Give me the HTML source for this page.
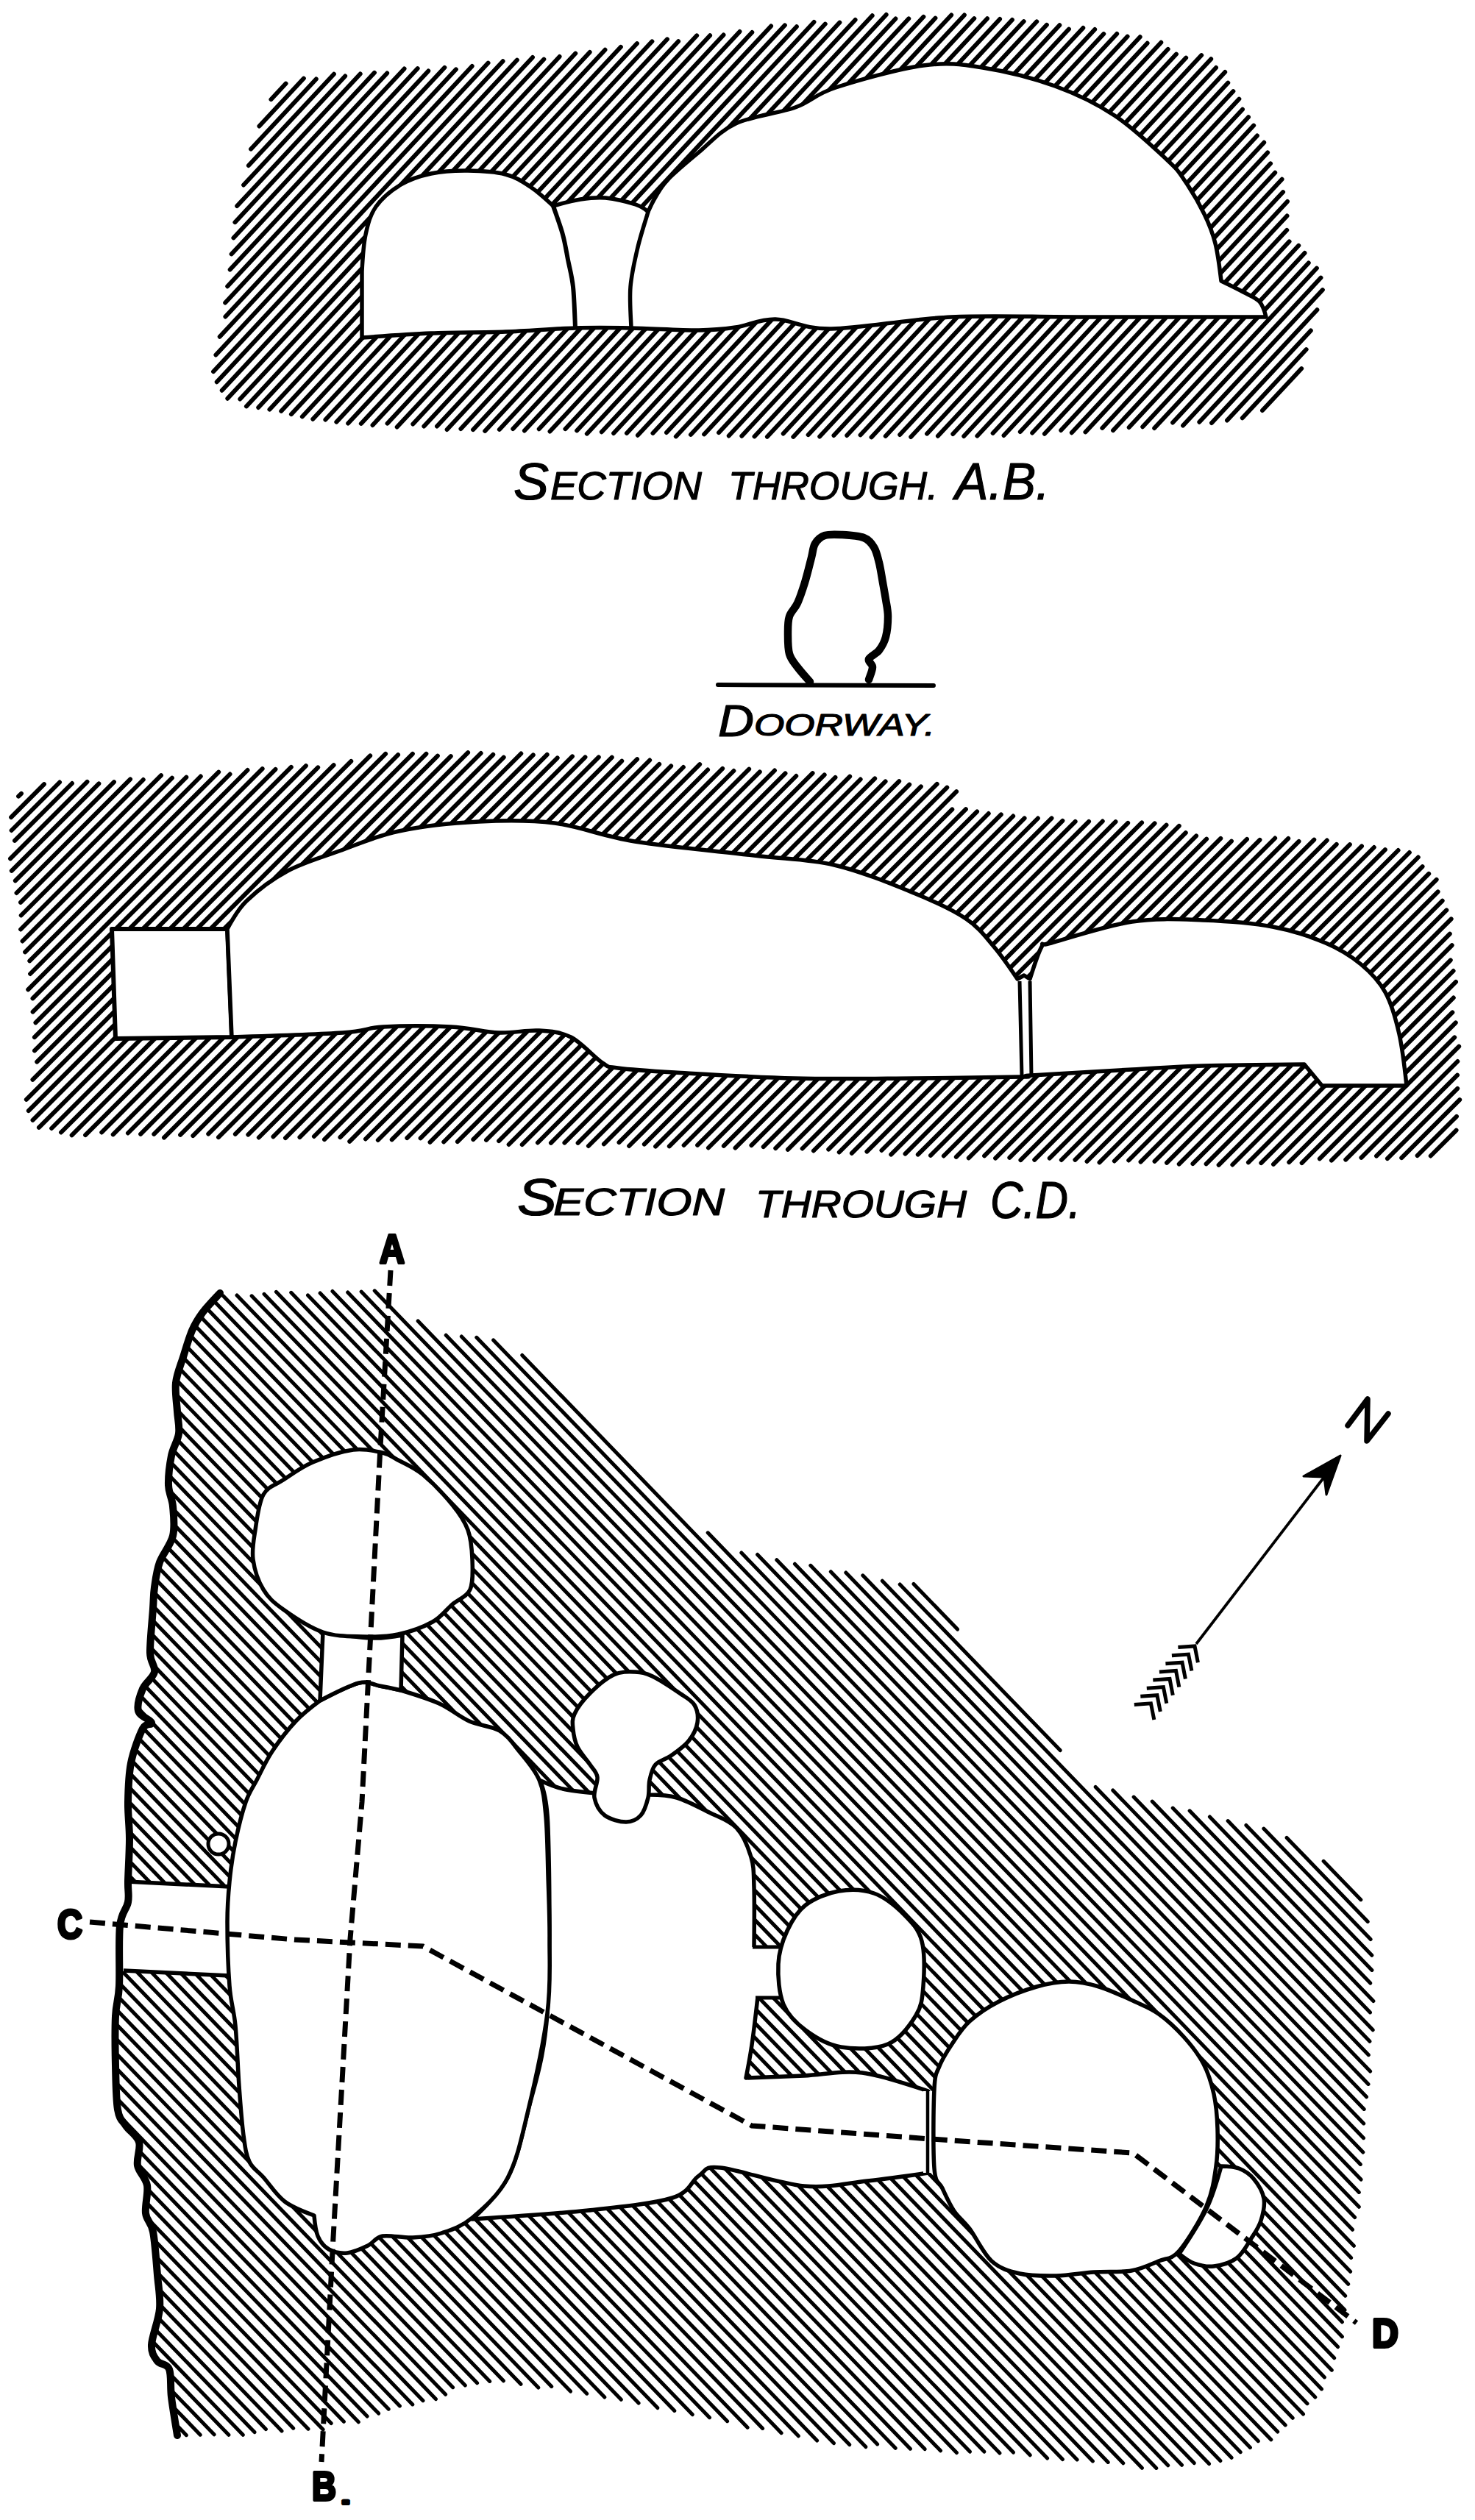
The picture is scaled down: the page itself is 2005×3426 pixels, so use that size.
<!DOCTYPE html>
<html><head><meta charset="utf-8"><title>Section</title>
<style>html,body{margin:0;padding:0;background:#fff;width:2005px;height:3426px;overflow:hidden}svg{display:block;font-family:"Liberation Sans",sans-serif}</style>
</head><body>
<svg width="2005" height="3426" viewBox="0 0 2005 3426"><defs></defs><path d="M368.4 135.2L388.6 113.6M352.4 171.5L412.9 106.6M341 202.7L429.8 107.5M337.9 225.1L453.9 100.7M331.1 251.5L469.2 103.4M322.2 280.1L489.7 100.5M319.4 302.2L509 98.8M317.4 323.4L526.2 99.4M314.6 345.4L549.6 93.4M312.7 366.6L567.7 93.1M309.2 389.3L582.3 96.4M306.2 411.6L604.4 91.8M306.4 430.5L619.9 94.3M298.7 457.8L641.7 89.9M293.4 482.5L663.6 85.6M290 505.2L683.6 83.2M294.7 519.3L702.9 81.6M301.7 530.8L724 77.9M309.3 541.8L739.4 80.6M326.3 542.6L760.6 76.9M334.9 552.4L782.3 72.6M351.2 554L801.7 70.9M366.4 556.7L822.5 67.7M382.2 558.9L843.9 63.8M395.9 563.2L866 59.1M410.8 566.4L886.4 56.3M425.3 569.8L907 53.3M442.4 570.6L922.1 56.2M457.3 573.7L947.2 48.3M473.2 575.6L965.1 48.2M490.8 575.9L983.5 47.5M506.5 578L1005.5 42.9M526.5 575.7L1022.3 44M539.7 580.6L1048.1 35.4M561.3 576.5L1066.9 34.3M576.3 579.5L1082.9 36.2M594 579.5L1106.5 29.9M607.6 584L1121.8 32.6M626.4 583L1141.4 30.6M643 584.2L1162.6 27M659.2 585.9L1185.7 21.2M678.8 583.9L1204.7 20M697.3 583.1L1217.4 25.4M712.9 585.5L1235.3 25.3M732.7 583.3L1255.4 22.8M747.5 586.5L1271.5 24.6M768.4 583.2L1293.2 20.4M784.1 585.4L1310.9 20.4M797.8 589.7L1324.3 25.1M817.8 587.3L1342 25.2M834.1 589L1359.1 25.9M851.9 588.9L1375.9 27M866.9 591.8L1391.7 29.1M887.4 588.9L1409.3 29.3M906 588.1L1422.9 33.8M918.8 593.4L1440.3 34.2M938.9 590.9L1453 39.6M957.1 590.4L1472.3 38M977 588.2L1488.2 40M990.7 592.5L1500.3 46.1M1008.3 592.8L1518.2 46M1025.5 593.4L1532.6 49.6M1042.9 593.8L1549.7 50.2M1064.7 589.5L1559.6 58.7M1078.3 593.9L1578.3 57.7M1098.6 591.2L1587.7 66.8M1114.2 593.5L1599 73.6M1133.4 592L1612.2 78.6M1151.2 592L1633.2 75.1M1169.5 591.4L1646.2 80.2M1184.5 594.4L1653 92M1203.7 592.9L1665.2 98M1223.2 591L1669.3 112.6M1238.2 594L1676.4 124.1M1260 589.7L1684.4 134.6M1274.9 592.8L1689 148.7M1295.3 590L1697 159.2M1310.2 593L1704.2 170.6M1328.3 592.7L1708.9 184.5M1349.6 588.9L1718.2 193.7M1364.5 592L1723.1 207.4M1386.8 587.1L1727.1 222.3M1403.2 588.6L1733.2 234.7M1419.9 589.8L1742.6 243.7M1442.2 585L1744.1 261.1M1456.8 588.3L1750 273.9M1475.4 587.4L1749.5 293.5M1498.3 581.9L1749.3 312.8M1513 585.2L1752.6 328.3M1534.7 581.1L1765.3 333.8M1553.2 580.3L1773.5 344M1569.2 582.1L1778.8 357.4M1594.1 574.5L1789.9 364.6M1608.1 578.6L1795.5 377.6M1630.3 573.8L1797.9 394.1M1647 575L1790.4 421.2M1668 571.5L1781.8 449.5M1688.8 568.3L1775.7 475.1M1716 558.1L1769.2 501.1" stroke="#000" stroke-width="5.9" stroke-linecap="round" fill="none"/>
<path d="M492 459 C492 459 553.5 454.3 586 453 C618.5 451.7 654.3 452.2 687 451 C719.7 449.8 753.7 446.8 782 446 C810.3 445.2 829 445.5 857 446 C885 446.5 926.2 449.2 950 449 C973.8 448.8 982.7 447.5 1000 445 C1017.3 442.5 1032.3 433.7 1054 434 C1075.7 434.3 1090.2 447.5 1130 447 C1169.8 446.5 1236 433.7 1293 431 C1350 428.3 1400.7 431 1472 431 C1543.3 431 1721 431 1721 431 C1721 431 1717.2 415.7 1712 410 C1706.8 404.3 1698.7 401.7 1690 397 C1681.3 392.3 1660 382 1660 382 C1660 382 1655.8 346.2 1652 331 C1648.2 315.8 1644 305.3 1637 291 C1630 276.7 1618.5 257.3 1610 245 C1601.5 232.7 1601.8 231.7 1586 217 C1570.2 202.3 1540.3 173.7 1515 157 C1489.7 140.3 1463.8 127.8 1434 117 C1404.2 106.2 1365.8 96.7 1336 92 C1306.2 87.3 1288.3 84.5 1255 89 C1221.7 93.5 1165 109.5 1136 119 C1107 128.5 1103.7 137.8 1081 146 C1058.3 154.2 1021.8 157.8 1000 168 C978.2 178.2 965.3 194.3 950 207 C934.7 219.7 917.8 233.8 908 244 C898.2 254.2 895.5 260.7 891 268 C886.5 275.3 881 288 881 288 C881 288 873.7 281.2 864 278 C854.3 274.8 835.5 270.2 823 269 C810.5 267.8 800.8 269.2 789 271 C777.2 272.8 752 280 752 280 C752 280 731.8 261.2 721 254 C710.2 246.8 701.2 240.7 687 237 C672.8 233.3 652.8 232.2 636 232 C619.2 231.8 601.2 232.8 586 236 C570.8 239.2 557.5 243.5 545 251 C532.5 258.5 519 269.7 511 281 C503 292.3 500.2 304.3 497 319 C493.8 333.7 492 369 492 369 C492 369 492 459 492 459Z" fill="#fff" stroke="#000" stroke-width="5.5" stroke-linejoin="round"/>
<path d="M752 280 C754.2 286.5 761.7 306.8 765 319 C768.3 331.2 769.7 341.2 772 353 C774.3 364.8 777.3 374.5 779 390 C780.7 405.5 781.5 436.7 782 446" fill="none" stroke="#000" stroke-width="6"/>
<path d="M881 288 C878.7 296 871 319 867 336 C863 353 858.5 371.7 857 390 C855.5 408.3 857.8 436.7 858 446" fill="none" stroke="#000" stroke-width="5.5"/>
<path d="M1101 927 C1098.2 923.7 1088.7 913.3 1084 907 C1079.3 900.7 1075.2 896.7 1073 889 C1070.8 881.3 1071 869.5 1071 861 C1071 852.5 1070.8 844.8 1073 838 C1075.2 831.2 1080.5 827.7 1084 820 C1087.5 812.3 1090.8 802.3 1094 792 C1097.2 781.7 1100.7 766.8 1103 758 C1105.3 749.2 1105 744 1108 739 C1111 734 1115 730 1121 728 C1127 726 1135.2 726.5 1144 727 C1152.8 727.5 1166.7 728.2 1174 731 C1181.3 733.8 1184.5 738.3 1188 744 C1191.5 749.7 1193 757 1195 765 C1197 773 1198.5 783.7 1200 792 C1201.5 800.3 1202.8 807.3 1204 815 C1205.2 822.7 1207 829.5 1207 838 C1207 846.5 1206 858.3 1204 866 C1202 873.7 1198.8 879 1195 884 C1191.2 889 1182.5 892.2 1181 896 C1179.5 899.8 1186 902.3 1186 907 C1186 911.7 1181.8 921.2 1181 924" fill="none" stroke="#000" stroke-width="10.5" stroke-linecap="round" stroke-linejoin="round"/>
<path d="M976 931 L1269 932" stroke="#000" stroke-width="6" stroke-linecap="round"/>
<path d="M25.1 1082.7L29 1078.8M15.1 1111.1L60 1066.1M15.6 1129L81.1 1063.5M20 1142.9L98 1065M14 1167.3L118.5 1062.8M15.8 1183.8L134.4 1065.3M20.8 1197.3L155 1063.1M22.5 1214L177.1 1059.3M28 1226.8L194.8 1060M28.7 1244.5L219 1054.2M28.1 1263.5L233.9 1057.7M30.5 1279.5L253.3 1056.7M34.1 1294.3L272.8 1055.5M40.3 1306.4L297.2 1049.6M41.1 1324L312.6 1052.5M38.2 1345.3L336.5 1047M44.5 1357.4L356.7 1045.2M44.6 1375.7L374.5 1045.8M48.4 1390.3L395.8 1042.9M46.9 1410.2L415.9 1041.1M47 1428.4L432.2 1043.3M50.2 1443.6L453.6 1040.2M44.4 1467.8L477.3 1034.9M35.8 1494.8L503.2 1027.4M38.8 1510.2L524.1 1024.9M44.5 1522.9L541.1 1026.2M52.9 1532.9L560.9 1024.8M70.1 1534L579.4 1024.8M83 1539.5L594.9 1027.6M97.6 1543.3L612.8 1028.1M116.1 1543.2L636.1 1023.2M138.2 1539.5L653.7 1024M153.7 1542.4L670.3 1025.8M173.9 1540.5L684.7 1029.7M191.1 1541.8L708.3 1024.5M209.3 1541.9L724.8 1026.4M223 1546.6L743.7 1025.9M245.1 1542.9L757.7 1030.3M262.3 1544.1L778 1028.3M283.2 1541.6L795.5 1029.3M297 1546.2L813.8 1029.4M319.8 1541.8L831.8 1029.7M337.3 1542.6L845.3 1034.6M351.8 1546.5L866.1 1032.2M371.4 1545.3L883.2 1033.5M388 1547.1L896.2 1038.9M407.4 1546.1L912.2 1041.3M426.9 1545L928.9 1043M441 1549.2L951.2 1039.1M462.4 1546.2L962.1 1046.5M475.2 1551.8L982.2 1044.8M496.9 1548.5L997.4 1048M513.8 1550L1018.2 1045.6M532.7 1549.4L1032.8 1049.4M553.3 1547.2L1053 1047.5M571.6 1547.4L1067.5 1051.4M584.5 1552.8L1082.3 1055M603.2 1552.5L1104.6 1051.1M621.9 1552.2L1120.7 1053.4M643.3 1549.2L1135.5 1056.9M661 1549.9L1155.2 1055.7M678.1 1551.2L1169.7 1059.5M691.6 1556L1189.2 1058.4M709.7 1556.2L1203.6 1062.4M730.9 1553.5L1222.2 1062.1M748.9 1553.8L1236.2 1066.6M767.4 1553.7L1251.9 1069.3M785.6 1553.9L1273.7 1065.9M799.9 1558L1287.3 1070.6M820.9 1555.4L1300.1 1076.2M841.5 1553.2L1294.3 1100.4M855.1 1558L1312.9 1100.2M875.8 1555.7L1328.1 1103.3M891.1 1558.7L1343.8 1106M909.8 1558.4L1360.8 1107.4M929.6 1557L1377.2 1109.5M948.1 1556.9L1392.6 1112.4M962.9 1560.5L1410.9 1112.5M983.8 1557.9L1429.5 1112.3M999.5 1560.7L1444.4 1115.8M1021.4 1557.1L1461.7 1116.9M1037.7 1559.2L1480.1 1116.8M1054.2 1561.1L1498.8 1116.5M1070.9 1562.8L1516.5 1117.2M1090.6 1561.5L1533.2 1118.8M1105.9 1564.5L1552.1 1118.4M1126.2 1562.6L1569.6 1119.3M1140.7 1566.5L1585.5 1121.7M1157.8 1567.8L1602.8 1122.8M1178.4 1565.6L1611.8 1132.2M1198.4 1564L1626.1 1136.3M1211.2 1569.6L1640.1 1140.7M1230.5 1568.7L1659.3 1139.9M1247.8 1569.7L1674 1143.6M1265 1570.9L1695 1140.9M1282.8 1571.5L1712.5 1141.8M1299.8 1572.9L1733.2 1139.5M1316.7 1574.3L1751.2 1139.9M1338.1 1571.4L1765.6 1143.8M1353.1 1574.7L1786.3 1141.6M1372.3 1573.9L1803.8 1142.5M1387.4 1577.2L1816.8 1147.8M1406.2 1576.8L1834.9 1148.1M1426.7 1574.7L1851 1150.4M1442.8 1577L1867.8 1152M1461.4 1576.8L1882.9 1155.2M1477.5 1579L1900.6 1156M1494.5 1580.4L1915.9 1159M1514.8 1578.5L1927.8 1165.5M1534.2 1577.5L1933.6 1178.1M1550.5 1579.6L1942.2 1187.9M1569.5 1578.9L1952.7 1195.8M1586 1580.8L1954.6 1212.3M1602.7 1582.6L1960.7 1224.6M1621.4 1582.2L1966.3 1237.4M1639.6 1582.4L1972.7 1249.3M1656.6 1583.8L1970.8 1269.6M1675.3 1583.5L1973.7 1285.1M1696.9 1580.3L1971.8 1305.3M1714.3 1581.2L1975.6 1320M1731 1582.9L1979 1334.9M1752.2 1580.1L1975.8 1356.5M1769.6 1581.1L1974.3 1376.4M1793.8 1575.3L1978.8 1390.3M1809.9 1577.6L1977.2 1410.3M1829.2 1576.6L1983.2 1422.7M1850.4 1573.8L1981.3 1443M1871 1571.6L1981 1461.7M1885.9 1575.1L1981.2 1479.8M1905.2 1574.2L1984.2 1495.2M1926.6 1571.1L1980 1517.8M1944.7 1571.5L1979.6 1536.6" stroke="#000" stroke-width="5.9" stroke-linecap="round" fill="none"/>
<path d="M152 1263 L309 1263 L315 1410 L157 1412Z" fill="#fff" stroke="#000" stroke-width="6" stroke-linejoin="round"/>
<path d="M315 1410 C315 1410 309 1263 309 1263 C309 1263 321.3 1238.2 335 1225 C348.7 1211.8 370 1195.3 391 1184 C412 1172.7 435.8 1166 461 1157 C486.2 1148 510.3 1136.7 542 1130 C573.7 1123.3 615.7 1118.8 651 1117 C686.3 1115.2 718.7 1114.5 754 1119 C789.3 1123.5 817.8 1136.7 863 1144 C908.2 1151.3 979.8 1157.7 1025 1163 C1070.2 1168.3 1097.8 1167.5 1134 1176 C1170.2 1184.5 1212.2 1201.8 1242 1214 C1271.8 1226.2 1294.8 1236.8 1313 1249 C1331.2 1261.2 1339.3 1273.3 1351 1287 C1362.7 1300.7 1383 1331 1383 1331 C1383 1331 1392 1326 1392 1326 C1392 1326 1400 1331 1400 1331 C1400 1331 1411.2 1295.2 1416 1287 C1420.8 1278.8 1408.5 1287.7 1429 1282 C1449.5 1276.3 1504.7 1258.2 1539 1253 C1573.3 1247.8 1603.2 1249.8 1635 1251 C1666.8 1252.2 1702.2 1254.8 1730 1260 C1757.8 1265.2 1782 1273.5 1802 1282 C1822 1290.5 1836.5 1299.8 1850 1311 C1863.5 1322.2 1874.3 1333.2 1883 1349 C1891.7 1364.8 1897.2 1384.8 1902 1406 C1906.8 1427.2 1912 1476 1912 1476 C1912 1476 1797 1476 1797 1476 C1797 1476 1773 1447 1773 1447 C1773 1447 1674 1447.8 1635 1449 C1596 1450.2 1577.8 1451.8 1539 1454 C1500.2 1456.2 1427 1460.3 1402 1462 C1377 1463.7 1415.7 1463.3 1389 1464 C1362.3 1464.7 1293.5 1465.7 1242 1466 C1190.5 1466.3 1134.2 1467.3 1080 1466 C1025.8 1464.7 957 1460.3 917 1458 C877 1455.7 856.3 1454.2 840 1452 C823.7 1449.8 829.7 1452 819 1445 C808.3 1438 790.5 1417.3 776 1410 C761.5 1402.7 748.3 1402 732 1401 C715.7 1400 697.8 1404.8 678 1404 C658.2 1403.2 639.2 1397.3 613 1396 C586.8 1394.7 545.5 1394.7 521 1396 C496.5 1397.3 500.3 1401.7 466 1404 C431.7 1406.3 315 1410 315 1410Z" fill="#fff" stroke="#000" stroke-width="5.5" stroke-linejoin="round"/>
<path d="M1386 1334 L1389 1464 M1400 1334 L1402 1464" stroke="#000" stroke-width="5"/>
<path d="M1799.1 2530.3L1849.8 2582.7M1749.1 2498.4L1859.2 2612.4M1717.8 2486.1L1863.1 2636.5M1693.9 2481.4L1864.8 2658.3M1669.1 2475.6L1864.9 2678.4M1644.4 2470L1862.7 2696.1M1617.1 2461.8L1866.9 2720.5M1594.2 2458.1L1862.5 2735.9M1566.2 2449.1L1866.2 2759.8M1541.1 2443.1L1861.9 2775.3M1242 2153.4L1301.5 2215.1M1512.8 2433.9L1860.3 2793.7M1223.2 2154L1441.1 2379.6M1489.2 2429.4L1862.6 2816M1199.3 2149.2L1860 2833.4M1172.8 2141.8L1857.5 2850.8M1149.8 2138L1854.2 2867.4M1129.3 2136.7L1853.7 2886.9M1101.8 2128.3L1853.5 2906.7M1080.4 2126.2L1852.8 2926M1055.8 2120.7L1849.3 2942.4M1029.6 2113.5L1850 2963.1M1007.8 2111L1847.3 2980.4M962.2 2083.8L1847.3 3000.3M709.8 1842.4L1841.6 3014.5M670.7 1821.9L1838.5 3031.3M647.8 1818.3L1840.4 3053.3M627.3 1817L1836.6 3069.4M606.2 1815.2L1835.6 3088.3M568.2 1795.9L1832.7 3105.3M509.2 1754.8L1828.7 3121.2M491.1 1756.1L1828 3140.4M472.7 1757L1824.4 3156.8M451.9 1755.5L1824.4 3176.7M435.1 1758L1818.5 3190.6M418.5 1760.9L1813.7 3205.7M395.7 1757.3L1810.3 3222.2M375.4 1756.3L1800.4 3231.9M359 1759.3L1796.5 3247.9M342.1 1761.8L1787.8 3258.9M322 1761L1777 3267.7M303.6 1761.9L1771.5 3282M289.9 1767.8L1757.2 3287.3M280.6 1778.2L1747.2 3296.9M271.9 1789.2L1736.7 3306M264.5 1801.5L1727.8 3316.8M258.5 1815.3L1710.3 3318.7M253.5 1830.2L1699.4 3327.4M248.9 1845.4L1686.2 3333.7M243.8 1860.2L1674.1 3341.3M239.6 1875.8L1658.9 3345.5M238.9 1895.1L1643.5 3349.6M240.9 1917.1L1623.2 3348.6M243.2 1939.6L1606.5 3351.3M240.9 1957.2L1587.7 3351.8M235.2 1971.3L1571.8 3355.4M231.5 1987.5L1552.4 3355.3M229.4 2005.3L1526.8 3348.8M229.7 2025.6L1506.2 3347.4M235.3 2051.4L1485.4 3345.9M236.6 2072.7L1464.1 3343.9M234.3 2090.4L1444.4 3343.5M227.9 2103.8L1423.6 3342M220.6 2116.2L1400.2 3337.8M215 2130.4L1377.4 3334.1M211.6 2146.9L1358.9 3335M209.2 2164.5L1337.8 3333.1M208.2 2183.5L1318.4 3333.1M206.8 2202L1300.4 3334.5M205.2 2220.4L1278.5 3331.8M204.1 2239.2L1257.1 3329.6M208.3 2263.6L1237.4 3329.2M205.7 2280.9L1217.2 3328.3M196.6 2291.5L1192.6 3322.9M190.6 2305.3L1176.8 3326.6M187.5 2322.1L1154.7 3323.6M194.4 2349.3L1133.4 3321.6M188.4 2363L1110.6 3318M183.2 2377.6L1085.3 3311.8M178.8 2393.2L1062.1 3307.7M176 2410.2L1036.6 3301.4M174.6 2428.8L1016.1 3300.2M174 2448.2L988.6 3291.7M174.5 2468.7L964.5 3286.7M175.8 2490L941.2 3282.6M175.9 2510.1L916.8 3277.4M175.2 2529.4L893.8 3273.6M174.3 2548.6L868.1 3267M174.2 2568.4L844.3 3262.3M173.6 2587.8L821.8 3259M167.3 2601.3L797.7 3254.2M163.1 2617L775.5 3251.1M162.1 2636L749.7 3244.4M162.1 2656L731.8 3246M162.3 2676.1L708 3241.3M162.1 2696L684.4 3236.8M160.6 2714.5L665.7 3237.4M157.8 2731.5L648.6 3239.7M156.7 2750.4L632.3 3242.9M156.5 2770.2L615.6 3245.7M156.7 2790.4L605.6 3255.3M157.1 2810.8L592.4 3261.6M157.5 2831.3L575 3263.7M158.4 2852.2L560.8 3268.9M161.9 2875.9L543.4 3270.9M189 2923.9L528.2 3275.2M186.7 2941.6L514.6 3281.1M200.4 2975.7L499.1 3285M198.7 2994L487.3 3292.8M199.6 3014.9L467.4 3292.2M209.7 3045.4L450.2 3294.5M211.9 3067.7L439.1 3303M213.7 3089.6L419 3302.2M216.1 3112L398.7 3301.2M217.3 3133.3L383 3304.9M215 3150.9L361.4 3302.5M210.7 3166.6L346 3306.6M206.7 3182.4L330.3 3310.3M213.8 3209.8L215.6 3211.6M231.5 3228.1L310.9 3310.3M232.2 3248.9L291.1 3309.8M234.7 3271.4L272.2 3310.2M238.5 3295.3L253.3 3310.7" stroke="#000" stroke-width="5" stroke-linecap="round" fill="none"/>
<path d="M168 2560 L312 2564 L312 2684 L166 2680Z" fill="#fff"/>
<path d="M172 2558 L312 2565 M168 2679 L312 2686" stroke="#000" stroke-width="5.5"/>
<path d="M733 2420 C733 2420 752.2 2429 765 2432 C777.8 2435 810 2438 810 2438 C810 2438 883 2440 883 2440 C883 2440 906.5 2440 920 2444 C933.5 2448 950.5 2457.2 964 2464 C977.5 2470.8 991.5 2474.8 1001 2485 C1010.5 2495.2 1017 2511.5 1021 2525 C1025 2538.5 1024.3 2545.7 1025 2566 C1025.7 2586.3 1025 2647 1025 2647 C1025 2647 1030 2715 1030 2715 C1030 2715 1024.7 2761.7 1022 2780 C1019.3 2798.3 1014 2825 1014 2825 C1014 2825 1066.7 2823.2 1093 2822 C1119.3 2820.8 1143.8 2814.5 1172 2818 C1200.2 2821.5 1262 2843 1262 2843 C1262 2843 1262 2954 1262 2954 C1262 2954 1207.2 2962 1179 2965 C1150.8 2968 1126.3 2975 1093 2972 C1059.7 2969 1002.8 2949.3 979 2947 C955.2 2944.7 960.8 2951.2 950 2958 C939.2 2964.8 939 2980.2 914 2988 C889 2995.8 845.3 3000.2 800 3005 C754.7 3009.8 642 3017 642 3017 C642 3017 677.5 2985 690 2961 C702.5 2937 708 2910.3 717 2873 C726 2835.7 739.3 2801.7 744 2737 C748.7 2672.3 746.8 2537.8 745 2485 C743.2 2432.2 733 2420 733 2420Z" fill="#fff" stroke="#000" stroke-width="5.5" stroke-linejoin="round"/>
<path d="M1020 2647 L1063 2647 L1063 2716 L1025 2716Z" fill="#fff"/>
<path d="M1023 2647 L1063 2647 M1027 2716 L1063 2716" stroke="#000" stroke-width="5"/>
<path d="M1255 2843 L1272 2843 L1272 2954 L1255 2954Z" fill="#fff"/>
<path d="M1261 2843 L1261 2954 M1271 2843 L1271 2952" stroke="#000" stroke-width="4.5"/>
<path d="M435 2312 C435 2312 474.5 2291.3 488 2288 C501.5 2284.7 506.5 2290.3 516 2292 C525.5 2293.7 545 2298 545 2298 C545 2298 581.5 2309 597 2316 C612.5 2323 624.3 2333.8 638 2340 C651.7 2346.2 667.8 2346.3 679 2353 C690.2 2359.7 696 2368.8 705 2380 C714 2391.2 726.8 2405 733 2420 C739.2 2435 740 2448.3 742 2470 C744 2491.7 744.2 2522.3 745 2550 C745.8 2577.7 747.2 2604.8 747 2636 C746.8 2667.2 749 2697.5 744 2737 C739 2776.5 726 2835.7 717 2873 C708 2910.3 702.5 2937.3 690 2961 C677.5 2984.7 657 3002.5 642 3015 C627 3027.5 613.5 3031.5 600 3036 C586.5 3040.5 574.3 3041.3 561 3042 C547.7 3042.7 530.2 3038.2 520 3040 C509.8 3041.8 508 3049.2 500 3053 C492 3056.8 480.8 3062.2 472 3063 C463.2 3063.8 453.7 3061.8 447 3058 C440.3 3054.2 435.3 3047.7 432 3040 C428.7 3032.3 427 3012 427 3012 C427 3012 398.5 3001.7 387 2993 C375.5 2984.3 366 2969 358 2960 C350 2951 343.5 2948.5 339 2939 C334.5 2929.5 333.3 2920.2 331 2903 C328.7 2885.8 326.8 2860.8 325 2836 C323.2 2811.2 322.2 2776.7 320 2754 C317.8 2731.3 313.8 2723.5 312 2700 C310.2 2676.5 309 2636.7 309 2613 C309 2589.3 310.2 2576.2 312 2558 C313.8 2539.8 316.3 2522 320 2504 C323.7 2486 329.2 2464 334 2450 C338.8 2436 343 2431.5 349 2420 C355 2408.5 361.2 2394.3 370 2381 C378.8 2367.7 391.2 2351.5 402 2340 C412.8 2328.5 435 2312 435 2312Z" fill="#fff" stroke="#000" stroke-width="5.5" stroke-linejoin="round"/>
<circle cx="297" cy="2507" r="14" fill="#fff" stroke="#000" stroke-width="5"/>
<path d="M305 2502 L322 2498 M305 2514 L320 2515" stroke="#000" stroke-width="0"/>
<path d="M439 2218 C439 2218 486 2226.2 504 2227 C522 2227.8 547 2223 547 2223 C547 2223 545 2298 545 2298 C545 2298 525.5 2293.7 516 2292 C506.5 2290.3 501.5 2284.7 488 2288 C474.5 2291.3 435 2312 435 2312 C435 2312 439 2218 439 2218Z" fill="#fff" stroke="#000" stroke-width="5.5" stroke-linejoin="round"/>
<path d="M480 1971 C495.8 1968.8 509.8 1972.7 520 1975 C530.2 1977.3 531.8 1980 541 1985 C550.2 1990 562.7 1994.8 575 2005 C587.3 2015.2 604.8 2033.5 615 2046 C625.2 2058.5 631.5 2067.7 636 2080 C640.5 2092.3 641.5 2106.5 642 2120 C642.5 2133.5 643.5 2150.8 639 2161 C634.5 2171.2 623.5 2173.7 615 2181 C606.5 2188.3 600.3 2198.2 588 2205 C575.7 2211.8 556.8 2218.7 541 2222 C525.2 2225.3 510 2225.5 493 2225 C476 2224.5 457 2225.2 439 2219 C421 2212.8 398.5 2197.7 385 2188 C371.5 2178.3 364.8 2172.3 358 2161 C351.2 2149.7 345.8 2133.5 344 2120 C342.2 2106.5 344.7 2094.7 347 2080 C349.3 2065.3 351.7 2043.3 358 2032 C364.3 2020.7 373.8 2019.3 385 2012 C396.2 2004.7 409.2 1994.8 425 1988 C440.8 1981.2 464.2 1973.2 480 1971Z" fill="#fff" stroke="#000" stroke-width="5.5" stroke-linejoin="round"/>
<path d="M781 2330 C784.8 2321.8 793.2 2310.8 802 2302 C810.8 2293.2 823.8 2281.8 834 2277 C844.2 2272.2 854.2 2272.7 863 2273 C871.8 2273.3 876.8 2274.2 887 2279 C897.2 2283.8 914.5 2295.5 924 2302 C933.5 2308.5 940 2311.3 944 2318 C948 2324.7 949.3 2333.8 948 2342 C946.7 2350.2 942 2359.5 936 2367 C930 2374.5 919.5 2381.7 912 2387 C904.5 2392.3 895.8 2393.5 891 2399 C886.2 2404.5 884.7 2412.5 883 2420 C881.3 2427.5 883 2436 881 2444 C879 2452 876 2462.5 871 2468 C866 2473.5 859.2 2477 851 2477 C842.8 2477 829.2 2473.5 822 2468 C814.8 2462.5 809.7 2452.7 808 2444 C806.3 2435.3 813 2423.5 812 2416 C811 2408.5 806.5 2405.8 802 2399 C797.5 2392.2 788.8 2383 785 2375 C781.2 2367 779.7 2358.5 779 2351 C778.3 2343.5 777.2 2338.2 781 2330Z" fill="#fff" stroke="#000" stroke-width="5.5" stroke-linejoin="round"/>
<path d="M1058 2670 C1058.8 2653.3 1063.8 2638.3 1070 2625 C1076.2 2611.7 1083.3 2599 1095 2590 C1106.7 2581 1124.5 2573.7 1140 2571 C1155.5 2568.3 1173.2 2568.7 1188 2574 C1202.8 2579.3 1218.2 2592.2 1229 2603 C1239.8 2613.8 1248.7 2622.8 1253 2639 C1257.3 2655.2 1256.3 2683.2 1255 2700 C1253.7 2716.8 1253 2726.8 1245 2740 C1237 2753.2 1224 2771.8 1207 2779 C1190 2786.2 1161.7 2786.2 1143 2783 C1124.3 2779.8 1108 2769.7 1095 2760 C1082 2750.3 1071.2 2740 1065 2725 C1058.8 2710 1057.2 2686.7 1058 2670Z" fill="#fff" stroke="#000" stroke-width="5.5" stroke-linejoin="round"/>
<path d="M1270 2840 C1271.2 2816.8 1273 2819.2 1277 2809 C1281 2798.8 1287.2 2789.2 1294 2779 C1300.8 2768.8 1307.3 2757.7 1318 2748 C1328.7 2738.3 1342.8 2728.8 1358 2721 C1373.2 2713.2 1393.2 2705.5 1409 2701 C1424.8 2696.5 1438.8 2694 1453 2694 C1467.2 2694 1479.2 2696.5 1494 2701 C1508.8 2705.5 1528.5 2714.8 1542 2721 C1555.5 2727.2 1563.8 2730 1575 2738 C1586.2 2746 1598.8 2757.7 1609 2769 C1619.2 2780.3 1629.2 2793 1636 2806 C1642.8 2819 1646.8 2832.3 1650 2847 C1653.2 2861.7 1654.5 2877.7 1655 2894 C1655.5 2910.3 1655.5 2927.5 1653 2945 C1650.5 2962.5 1648.3 2979.8 1640 2999 C1631.7 3018.2 1613.8 3047.5 1603 3060 C1592.2 3072.5 1585.8 3069.5 1575 3074 C1564.2 3078.5 1552.7 3084.5 1538 3087 C1523.3 3089.5 1504 3087.8 1487 3089 C1470 3090.2 1452.8 3093.7 1436 3094 C1419.2 3094.3 1400.7 3094.3 1386 3091 C1371.3 3087.7 1359.3 3084.2 1348 3074 C1336.7 3063.8 1326.5 3041.3 1318 3030 C1309.5 3018.7 1303.2 3015.2 1297 3006 C1290.8 2996.8 1285.5 2984.7 1281 2975 C1276.5 2965.3 1271.8 2970.5 1270 2948 C1268.2 2925.5 1268.8 2863.2 1270 2840Z" fill="#fff" stroke="#000" stroke-width="5.5" stroke-linejoin="round"/>
<path d="M1603 3064 C1603 3064 1630.5 3022.8 1640 3003 C1649.5 2983.2 1660 2945 1660 2945 C1660 2945 1676.7 2945.2 1684 2948 C1691.3 2950.8 1698.3 2955.2 1704 2962 C1709.7 2968.8 1716.3 2979.5 1718 2989 C1719.7 2998.5 1716.8 3010 1714 3019 C1711.2 3028 1706.5 3034.5 1701 3043 C1695.5 3051.5 1689.5 3063.7 1681 3070 C1672.5 3076.3 1659.7 3079.8 1650 3081 C1640.3 3082.2 1630.8 3079.8 1623 3077 C1615.2 3074.2 1603 3064 1603 3064Z" fill="#fff" stroke="#000" stroke-width="5.5" stroke-linejoin="round"/>
<path d="M241 3311 C239.7 3302.3 234.8 3274 233 3259 C231.2 3244 233.2 3229.2 230 3221 C226.8 3212.8 218 3215.5 214 3210 C210 3204.5 205.5 3199.8 206 3188 C206.5 3176.2 215.7 3154.8 217 3139 C218.3 3123.2 215.5 3110.5 214 3093 C212.5 3075.5 210.7 3048 208 3034 C205.3 3020 199.3 3019.5 198 3009 C196.7 2998.5 201.8 2981.8 200 2971 C198.2 2960.2 188.8 2953.8 187 2944 C185.2 2934.2 191.7 2921 189 2912 C186.3 2903 175.8 2897.3 171 2890 C166.2 2882.7 162.3 2881.7 160 2868 C157.7 2854.3 157.5 2829.2 157 2808 C156.5 2786.8 156.2 2759 157 2741 C157.8 2723 161 2720.5 162 2700 C163 2679.5 161 2637 163 2618 C165 2599 172.2 2596 174 2586 C175.8 2576 173.7 2572.3 174 2558 C174.3 2543.7 176 2518 176 2500 C176 2482 173.7 2467.2 174 2450 C174.3 2432.8 174.7 2413.7 178 2397 C181.3 2380.3 189.3 2359.2 194 2350 C198.7 2340.8 207 2346 206 2342 C205 2338 190 2333.7 188 2326 C186 2318.3 190.3 2304.8 194 2296 C197.7 2287.2 208.3 2281.2 210 2273 C211.7 2264.8 204.3 2261.3 204 2247 C203.7 2232.7 207 2201.8 208 2187 C209 2172.2 208.5 2168.5 210 2158 C211.5 2147.5 212.8 2135.7 217 2124 C221.2 2112.3 232 2100.7 235 2088 C238 2075.3 236 2059.5 235 2048 C234 2036.5 229.3 2030.5 229 2019 C228.7 2007.5 230.7 1990.7 233 1979 C235.3 1967.3 241.7 1959 243 1949 C244.3 1939 241.7 1930.5 241 1919 C240.3 1907.5 237.7 1892.3 239 1880 C240.3 1867.7 245.3 1856.8 249 1845 C252.7 1833.2 256.7 1819 261 1809 C265.3 1799 268.7 1793.5 275 1785 C281.3 1776.5 295 1762.5 299 1758" fill="none" stroke="#000" stroke-width="10" stroke-linejoin="round" stroke-linecap="round"/>
<path d="M531 1727 L517 1967 L492 2450 L476 2636 L453 3042 L437 3347" fill="none" stroke="#000" stroke-width="7" stroke-dasharray="21 10"/>
<path d="M122 2613 L400 2637 L575 2646 L1022 2890 L1265 2908 L1540 2927 L1844 3158" fill="none" stroke="#000" stroke-width="7" stroke-dasharray="21 10"/>
<path d="M1626 2235 L1810 1995" stroke="#000" stroke-width="3.8"/>
<path d="M1822 1979 L1772 2007 L1800 2008 L1803 2032Z" fill="#000" stroke="#000" stroke-width="3" stroke-linejoin="round"/>
<path d="M1628.4 2260.2 L1624 2238 L1601.4 2239.6 M1619.9 2271.4 L1615.5 2249.1 L1592.9 2250.7 M1611.4 2282.5 L1607 2260.2 L1584.4 2261.8 M1602.8 2293.6 L1598.5 2271.3 L1575.9 2272.9 M1594.3 2304.7 L1590 2282.5 L1567.3 2284 M1585.8 2315.8 L1581.4 2293.6 L1558.8 2295.2 M1577.3 2326.9 L1572.9 2304.7 L1550.3 2306.3 M1568.8 2338.1 L1564.4 2315.8 L1541.8 2317.4" fill="none" stroke="#000" stroke-width="5" stroke-linejoin="miter"/>
<path d="M1832 1938 L1859 1902 L1858 1959 L1887 1922" fill="none" stroke="#000" stroke-width="7.5" stroke-linejoin="round" stroke-linecap="round"/><g font-family="Liberation Sans, sans-serif" font-style="italic" fill="#000" stroke="#000" stroke-width="1.2" stroke-linejoin="round"><text x="698" y="679" font-size="70" textLength="48" lengthAdjust="spacingAndGlyphs" >S</text>
<text x="748" y="679" font-size="54" textLength="206" lengthAdjust="spacingAndGlyphs" >ECTION</text>
<text x="990" y="679" font-size="54" textLength="285" lengthAdjust="spacingAndGlyphs" >THROUGH.</text>
<text x="1298" y="679" font-size="70" textLength="129" lengthAdjust="spacingAndGlyphs" >A.B.</text>
<text x="976" y="1001" font-size="62" textLength="49" lengthAdjust="spacingAndGlyphs" >D</text>
<text x="1025" y="1000" font-size="42" textLength="246" lengthAdjust="spacingAndGlyphs" >OORWAY.</text>
<text x="703" y="1652" font-size="70" textLength="54" lengthAdjust="spacingAndGlyphs" >S</text>
<text x="752" y="1652" font-size="51" textLength="233" lengthAdjust="spacingAndGlyphs" >ECTION</text>
<text x="1027" y="1655" font-size="51" textLength="287" lengthAdjust="spacingAndGlyphs" >THROUGH</text>
<text x="1346" y="1656" font-size="70" textLength="123" lengthAdjust="spacingAndGlyphs" >C.D.</text></g><g font-family="Liberation Sans, sans-serif" font-weight="bold" fill="#000" stroke="#000" stroke-width="4" stroke-linejoin="round"><text x="516" y="1717" font-size="56" textLength="34" lengthAdjust="spacingAndGlyphs" >A</text>
<text x="424" y="3399" font-size="56" textLength="33" lengthAdjust="spacingAndGlyphs" >B</text>
<text x="464" y="3404" font-size="30" textLength="12" lengthAdjust="spacingAndGlyphs" >.</text>
<text x="78" y="2635" font-size="56" textLength="34" lengthAdjust="spacingAndGlyphs" >C</text>
<text x="1865" y="3191" font-size="56" textLength="36" lengthAdjust="spacingAndGlyphs" >D</text></g></svg>
</body></html>
